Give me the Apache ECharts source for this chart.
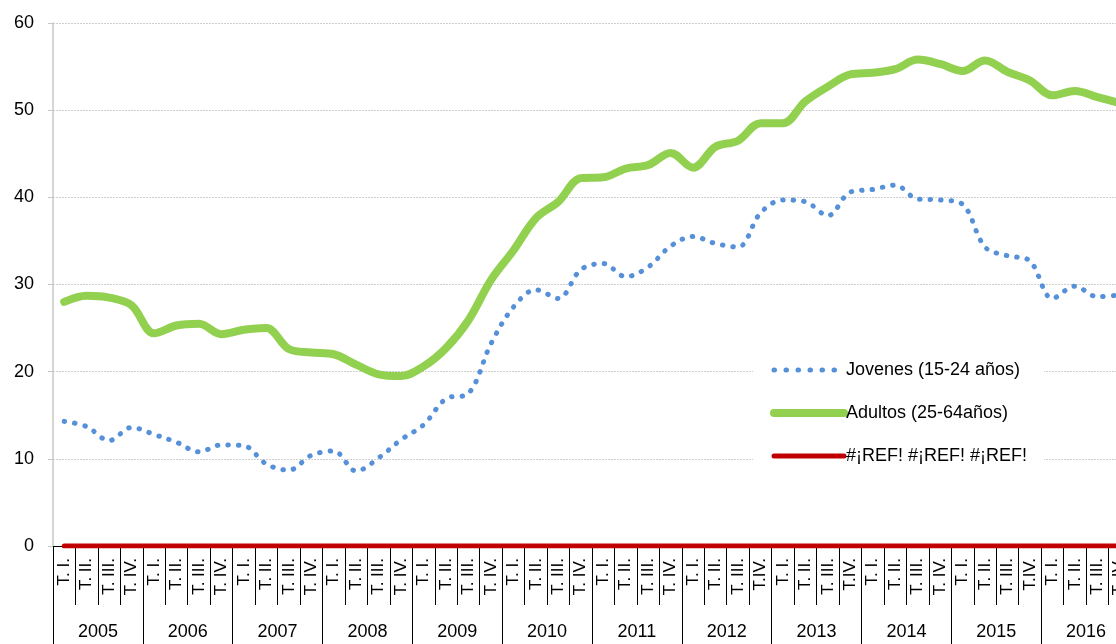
<!DOCTYPE html>
<html>
<head>
<meta charset="utf-8">
<script src="https://cdn.jsdelivr.net/npm/echarts@6/dist/echarts.min.js"></script>
<style>
  html, body { margin: 0; padding: 0; background: #fff; overflow: hidden; }
  /* el gráfico original sigue más allá del borde derecho */
  #chart { width: 1131px; height: 644px; }
</style>
</head>
<body>
<div id="chart"></div>
<script>
// trimestres (etiquetas tal como aparecen en el eje)
var quarters = [
  'T. I.', 'T. II.', 'T. III.', 'T. IV.',
  'T. I.', 'T. II.', 'T. III.', 'T. IV.',
  'T. I.', 'T. II.', 'T. III.', 'T. IV.',
  'T. I.', 'T. II.', 'T. III.', 'T. IV.',
  'T. I.', 'T. II.', 'T. III.', 'T. IV.',
  'T. I.', 'T. II.', 'T. III.', 'T. IV.',
  'T. I.', 'T. II.', 'T. III.', 'T. IV.',
  'T. I.', 'T. II.', 'T. III.', 'T.IV.',
  'T. I.', 'T. II.', 'T. III.', 'T.IV.',
  'T. I.', 'T. II.', 'T. III.', 'T. IV.',
  'T. I.', 'T. II.', 'T. III.', 'T.IV.',
  'T. I.', 'T. II.', 'T. III.', 'T. IV.'
];
var years = ['2005', '2006', '2007', '2008', '2009', '2010', '2011', '2012', '2013', '2014', '2015', '2016'];

var jovenes = [
  14.3, 13.7, 12.1, 13.6,
  12.8, 11.9, 10.8, 11.6,
  11.5, 9.4, 8.7, 10.4,
  10.9, 8.6, 10.1, 12.2,
  13.9, 16.9, 17.5, 23.2,
  27.4, 29.4, 28.4, 31.7,
  32.4, 30.9, 32.0, 34.4,
  35.5, 34.7, 34.3, 38.2,
  39.7, 39.5, 37.9, 40.6,
  40.9, 41.4, 39.8, 39.7,
  39.2, 34.3, 33.3, 32.7,
  28.4, 29.8, 28.6, 28.8
];
var adultos = [
  28.0, 28.7, 28.5, 27.6,
  24.4, 25.3, 25.5, 24.3,
  24.8, 25.0, 22.6, 22.2,
  22.0, 20.8, 19.7, 19.5,
  20.6, 22.7, 25.9, 30.5,
  33.9, 37.6, 39.5, 42.2,
  42.3, 43.3, 43.7, 45.1,
  43.4, 45.8, 46.5, 48.5,
  48.5, 51.0, 52.7, 54.1,
  54.3, 54.7, 55.8, 55.3,
  54.5, 55.7, 54.4, 53.4,
  51.7, 52.2, 51.5, 50.8
];
// serie con error de referencia: se dibuja en 0
var refError = [
  0, 0, 0, 0, 0, 0, 0, 0, 0, 0, 0, 0,
  0, 0, 0, 0, 0, 0, 0, 0, 0, 0, 0, 0,
  0, 0, 0, 0, 0, 0, 0, 0, 0, 0, 0, 0,
  0, 0, 0, 0, 0, 0, 0, 0, 0, 0, 0, 0
];

var FONT = 'Liberation Sans';
var chart = echarts.init(document.getElementById('chart'));

var option = {
  animation: false,
  textStyle: { fontFamily: FONT },
  grid: { left: 53, top: 23, bottom: 98, right: 0 },
  legend: {
    orient: 'vertical',
    left: 753,
    top: 355,
    padding: [6, 17, 6, 17],
    itemGap: 25,
    itemWidth: 70,
    itemHeight: 14,
    backgroundColor: '#fff',
    textStyle: { fontSize: 18, color: '#000', fontFamily: FONT, padding: [0, 0, 0, -3] },
    data: [
      { name: 'Jovenes (15-24 años)', itemStyle: { opacity: 0 }, lineStyle: { width: 5, type: [0.5, 11.5], cap: 'round', color: '#5590d8' } },
      { name: 'Adultos (25-64años)', itemStyle: { opacity: 0 }, lineStyle: { width: 8, cap: 'round', color: '#92d050' } },
      { name: '#¡REF! #¡REF! #¡REF!', itemStyle: { opacity: 0 }, lineStyle: { width: 5, cap: 'round', color: '#c00000' } }
    ]
  },
  xAxis: [
    {
      type: 'category',
      data: quarters,
      boundaryGap: true,
      axisLine: { lineStyle: { color: '#000', width: 1 } },
      axisTick: { show: true, interval: 0, length: 59, lineStyle: { color: '#000' } },
      axisLabel: { interval: 0, rotate: 90, margin: 12, fontSize: 17, color: '#000', fontFamily: FONT },
      splitLine: { show: false }
    },
    {
      type: 'category',
      data: years,
      position: 'bottom',
      boundaryGap: true,
      axisLine: { show: false },
      axisTick: { show: true, interval: 0, length: 100, lineStyle: { color: '#000' } },
      axisLabel: { interval: 0, margin: 77, fontSize: 18, color: '#000', fontFamily: FONT },
      splitLine: { show: false }
    }
  ],
  yAxis: {
    type: 'value',
    min: 0,
    max: 60,
    interval: 10,
    axisLine: { show: true, lineStyle: { color: '#c8c8c8', width: 1.5 } },
    axisTick: { show: true, length: 5, lineStyle: { color: '#c8c8c8' } },
    axisLabel: { fontSize: 18, color: '#000', margin: 19, fontFamily: FONT },
    splitLine: { show: true, lineStyle: { color: '#cfcfcf', type: [2, 1], width: 1 } }
  },
  series: [
    {
      name: 'Jovenes (15-24 años)',
      type: 'line',
      data: jovenes,
      smooth: 0.35,
      symbol: 'none',
      lineStyle: { width: 5, type: [0.5, 10], cap: 'round', color: '#5590d8' },
      itemStyle: { color: '#5590d8' },
      z: 3
    },
    {
      name: 'Adultos (25-64años)',
      type: 'line',
      data: adultos,
      smooth: 0.35,
      symbol: 'none',
      lineStyle: { width: 8, cap: 'round', join: 'round', color: '#92d050' },
      itemStyle: { color: '#92d050' },
      z: 3
    },
    {
      name: '#¡REF! #¡REF! #¡REF!',
      type: 'line',
      data: refError,
      symbol: 'none',
      lineStyle: { width: 5, cap: 'round', color: '#c00000' },
      itemStyle: { color: '#c00000' },
      z: 4
    }
  ]
};

chart.setOption(option);
</script>
</body>
</html>
